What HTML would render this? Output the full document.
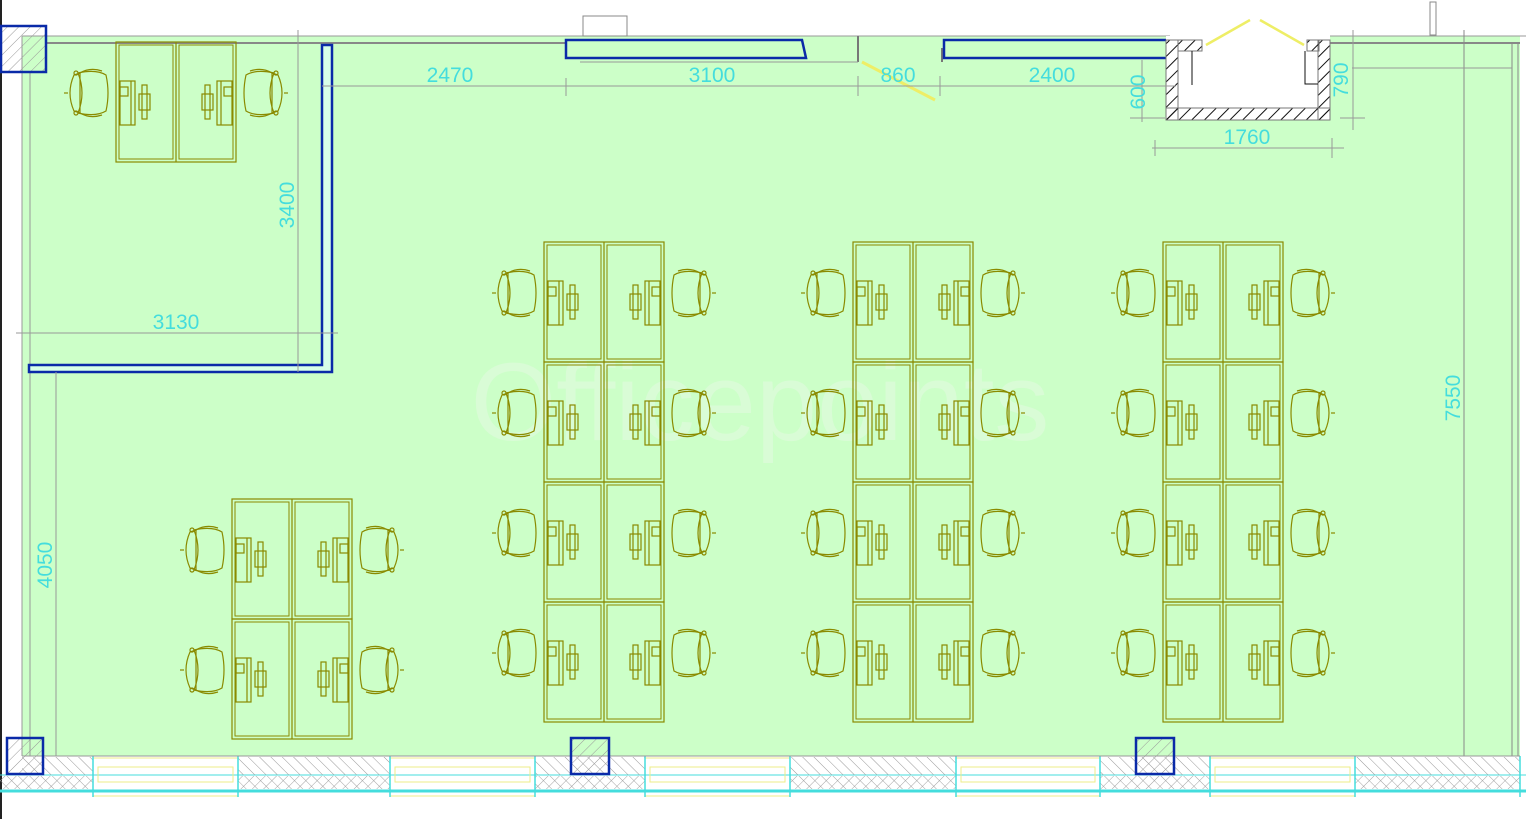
<!DOCTYPE html>
<html><head><meta charset="utf-8"><style>
html,body{margin:0;padding:0;background:#fff;}
svg{display:block;}
text{font-family:"Liberation Sans",sans-serif;}
</style></head><body>
<svg width="1526" height="819" viewBox="0 0 1526 819" xmlns="http://www.w3.org/2000/svg">
<defs>
<pattern id="hatch" width="8" height="8" patternUnits="userSpaceOnUse" patternTransform="rotate(45)">
<line x1="0" y1="0" x2="0" y2="8" stroke="#999" stroke-width="1"/></pattern>
<pattern id="hatch2" width="8" height="8" patternUnits="userSpaceOnUse" patternTransform="rotate(-45)">
<line x1="0" y1="0" x2="0" y2="8" stroke="#999" stroke-width="1"/></pattern>
<pattern id="hatchb" width="9" height="9" patternUnits="userSpaceOnUse" patternTransform="rotate(45)">
<line x1="0" y1="0" x2="0" y2="9" stroke="#111" stroke-width="2"/></pattern>
<g id="chairL" fill="none" stroke="#8a8a00" stroke-width="1.2">
<path d="M-42,-18 Q-50,0 -42,18 L-36,20 L-36,-20 Z"/>
<path d="M-38,-20 Q-20,-24 -10,-18 Q-6,0 -10,18 Q-20,24 -38,20 Q-30,0 -38,-20Z"/>
<path d="M-36,-20 Q-26,-26 -14,-22 M-36,20 Q-26,26 -14,22"/>
<line x1="-48" y1="0" x2="-52" y2="0"/>
<circle cx="-40" cy="-20" r="2"/><circle cx="-40" cy="20" r="2"/>
</g>
<g id="pcL" fill="none" stroke="#8a8a00" stroke-width="1.2">
<rect x="4" y="-12" width="15" height="44"/><rect x="4" y="-6" width="8" height="9"/>
<line x1="15" y1="-12" x2="15" y2="32"/>
<rect x="26" y="-8" width="5" height="34"/><rect x="23" y="1" width="11" height="16"/>
</g>
<g id="unit">
<rect x="0" y="0" width="120" height="120" fill="none" stroke="#8a8a00" stroke-width="1.2"/>
<rect x="3" y="3" width="54" height="114" fill="none" stroke="#8a8a00" stroke-width="1"/>
<rect x="63" y="3" width="54" height="114" fill="none" stroke="#8a8a00" stroke-width="1"/>
<line x1="60" y1="0" x2="60" y2="120" stroke="#8a8a00" stroke-width="1.2"/>
<g transform="translate(0,51)"><use href="#chairL"/><use href="#pcL"/></g>
<g transform="translate(120,51) scale(-1,1)"><use href="#chairL"/><use href="#pcL"/></g>
</g>
</defs>
<rect width="1526" height="819" fill="#fff"/>
<line x1="1" y1="0" x2="1" y2="819" stroke="#222" stroke-width="2"/>
<rect x="22" y="36" width="1498" height="720" fill="#ccffc8"/>
<line x1="22" y1="36" x2="1170" y2="36" stroke="#999" stroke-width="1"/>
<line x1="46" y1="43" x2="566" y2="43" stroke="#888" stroke-width="2"/>
<line x1="1330" y1="36" x2="1526" y2="36" stroke="#999"/>
<line x1="1330" y1="43" x2="1520" y2="43" stroke="#888" stroke-width="2"/>
<line x1="1512" y1="43" x2="1512" y2="756" stroke="#888"/>
<line x1="1518" y1="43" x2="1518" y2="756" stroke="#888"/>
<line x1="22" y1="36" x2="22" y2="756" stroke="#999"/>
<line x1="30" y1="72" x2="30" y2="756" stroke="#999"/>
<line x1="1464" y1="30" x2="1464" y2="770" stroke="#888"/>
<line x1="1352" y1="68" x2="1512" y2="68" stroke="#999"/>
<rect x="1430" y="2" width="6" height="33" fill="none" stroke="#888"/>
<text x="760" y="440" font-size="110" fill="#d9fcd6" text-anchor="middle">Officepoints</text>
<rect x="583" y="16" width="44" height="20" fill="#fff" stroke="#888"/>
<polygon points="566,40 802,40 806,58 566,58" fill="none" stroke="#0a2aa8" stroke-width="2.5"/>
<line x1="858" y1="36" x2="858" y2="62" stroke="#777" stroke-width="2"/>
<line x1="580" y1="62" x2="858" y2="62" stroke="#999"/>
<path d="M942,62 V48" stroke="#777" stroke-width="2"/>
<polyline points="1170,40 944,40 944,58 1170,58" fill="none" stroke="#0a2aa8" stroke-width="2.5"/>
<line x1="862" y1="62" x2="935" y2="100" stroke="#eeee66" stroke-width="3"/>
<rect x="1166" y="36" width="164" height="84" fill="#fff"/>
<rect x="1166" y="40" width="12" height="80" fill="url(#hatchb)" stroke="#777"/>
<rect x="1318" y="40" width="12" height="80" fill="url(#hatchb)" stroke="#777"/>
<rect x="1166" y="108" width="164" height="12" fill="url(#hatchb)" stroke="#777"/>
<rect x="1178" y="40" width="24" height="11" fill="url(#hatchb)" stroke="#777"/>
<rect x="1307" y="40" width="12" height="11" fill="url(#hatchb)" stroke="#777"/>
<line x1="1192" y1="51" x2="1192" y2="85" stroke="#111"/>
<polyline points="1305,51 1305,84 1318,84" fill="none" stroke="#111"/>
<line x1="1206" y1="45" x2="1250" y2="20" stroke="#eeee66" stroke-width="2.5"/>
<line x1="1260" y1="20" x2="1304" y2="45" stroke="#eeee66" stroke-width="2.5"/>
<polygon points="322,45 332,45 332,372 29,372 29,365 322,365" fill="#d8ffe8" stroke="#0a2aa8" stroke-width="2.5"/>
<rect x="1" y="26" width="45" height="46" fill="url(#hatch)" stroke="#0a2aa8" stroke-width="2.5"/>
<rect x="22" y="756" width="1498" height="36" fill="#fff"/>
<g stroke="#44dddd">
<line x1="0" y1="791" x2="1526" y2="791" stroke-width="3"/>
<line x1="0" y1="775" x2="1526" y2="775" stroke-width="1"/>
</g>
<g fill="url(#hatch2)">
<rect x="22" y="757" width="71" height="18"/><rect x="238" y="757" width="152" height="18"/>
<rect x="535" y="757" width="110" height="18"/><rect x="790" y="757" width="166" height="18"/>
<rect x="1100" y="757" width="110" height="18"/><rect x="1355" y="757" width="165" height="18"/>
</g>
<g fill="url(#hatch)" opacity="0.9">
<rect x="0" y="776" width="93" height="13"/><rect x="238" y="776" width="152" height="13"/>
<rect x="535" y="776" width="110" height="13"/><rect x="790" y="776" width="166" height="13"/>
<rect x="1100" y="776" width="110" height="13"/><rect x="1355" y="776" width="165" height="13"/>
</g>
<g fill="url(#hatch2)" opacity="0.9">
<rect x="0" y="776" width="93" height="13"/><rect x="238" y="776" width="152" height="13"/>
<rect x="535" y="776" width="110" height="13"/><rect x="790" y="776" width="166" height="13"/>
<rect x="1100" y="776" width="110" height="13"/><rect x="1355" y="776" width="165" height="13"/>
</g>
<g fill="none" stroke="#eeee88" stroke-width="1">
<rect x="93" y="758" width="145" height="38"/><rect x="98" y="767" width="135" height="15"/>
<rect x="390" y="758" width="145" height="38"/><rect x="395" y="767" width="135" height="15"/>
<rect x="645" y="758" width="145" height="38"/><rect x="650" y="767" width="135" height="15"/>
<rect x="956" y="758" width="144" height="38"/><rect x="961" y="767" width="134" height="15"/>
<rect x="1210" y="758" width="145" height="38"/><rect x="1215" y="767" width="135" height="15"/>
</g>
<g stroke="#44dddd" stroke-width="1.5">
<line x1="93" y1="756" x2="93" y2="797"/><line x1="238" y1="756" x2="238" y2="797"/>
<line x1="390" y1="756" x2="390" y2="797"/><line x1="535" y1="756" x2="535" y2="797"/>
<line x1="645" y1="756" x2="645" y2="797"/><line x1="790" y1="756" x2="790" y2="797"/>
<line x1="956" y1="756" x2="956" y2="797"/><line x1="1100" y1="756" x2="1100" y2="797"/>
<line x1="1210" y1="756" x2="1210" y2="797"/><line x1="1355" y1="756" x2="1355" y2="797"/>
<line x1="1520" y1="756" x2="1520" y2="797"/>
</g>
<line x1="22" y1="756" x2="1520" y2="756" stroke="#999"/>
<rect x="7" y="738" width="36" height="36" fill="url(#hatch)" stroke="#0a2aa8" stroke-width="2.5"/>
<rect x="571" y="738" width="38" height="36" fill="url(#hatch)" stroke="#0a2aa8" stroke-width="2.5"/>
<rect x="1136" y="738" width="38" height="36" fill="url(#hatch)" stroke="#0a2aa8" stroke-width="2.5"/>
<g stroke="#999" stroke-width="1">
<line x1="322" y1="86" x2="1176" y2="86"/>
<line x1="298" y1="30" x2="298" y2="372"/>
<line x1="16" y1="333" x2="338" y2="333"/>
<line x1="56" y1="372" x2="56" y2="756"/>
<line x1="1142" y1="60" x2="1142" y2="122"/>
<line x1="1353" y1="30" x2="1353" y2="130"/>
<line x1="1152" y1="148" x2="1344" y2="148"/>
<line x1="1155" y1="140" x2="1155" y2="156"/><line x1="1332" y1="138" x2="1332" y2="158"/>
<line x1="1130" y1="118" x2="1165" y2="118"/><line x1="1340" y1="118" x2="1365" y2="118"/>
<line x1="566" y1="78" x2="566" y2="96"/><line x1="858" y1="76" x2="858" y2="96"/><line x1="940" y1="76" x2="940" y2="96"/>
</g>
<g fill="#44dddd" font-size="21">
<text x="450" y="82" text-anchor="middle">2470</text>
<text x="712" y="82" text-anchor="middle">3100</text>
<text x="898" y="82" text-anchor="middle">860</text>
<text x="1052" y="82" text-anchor="middle">2400</text>
<text x="1247" y="144" text-anchor="middle">1760</text>
<text x="176" y="329" text-anchor="middle">3130</text>
<text transform="translate(294,205) rotate(-90)" text-anchor="middle">3400</text>
<text transform="translate(52,565) rotate(-90)" text-anchor="middle">4050</text>
<text transform="translate(1460,398) rotate(-90)" text-anchor="middle">7550</text>
<text transform="translate(1145,92) rotate(-90)" text-anchor="middle">600</text>
<text transform="translate(1348,80) rotate(-90)" text-anchor="middle">790</text>
</g>
<use href="#unit" x="116" y="42"/>
<use href="#unit" x="232" y="499"/>
<use href="#unit" x="232" y="619"/>
<g>
<use href="#unit" x="544" y="242"/><use href="#unit" x="544" y="362"/><use href="#unit" x="544" y="482"/><use href="#unit" x="544" y="602"/>
<use href="#unit" x="853" y="242"/><use href="#unit" x="853" y="362"/><use href="#unit" x="853" y="482"/><use href="#unit" x="853" y="602"/>
<use href="#unit" x="1163" y="242"/><use href="#unit" x="1163" y="362"/><use href="#unit" x="1163" y="482"/><use href="#unit" x="1163" y="602"/>
</g>
</svg>
</body></html>
